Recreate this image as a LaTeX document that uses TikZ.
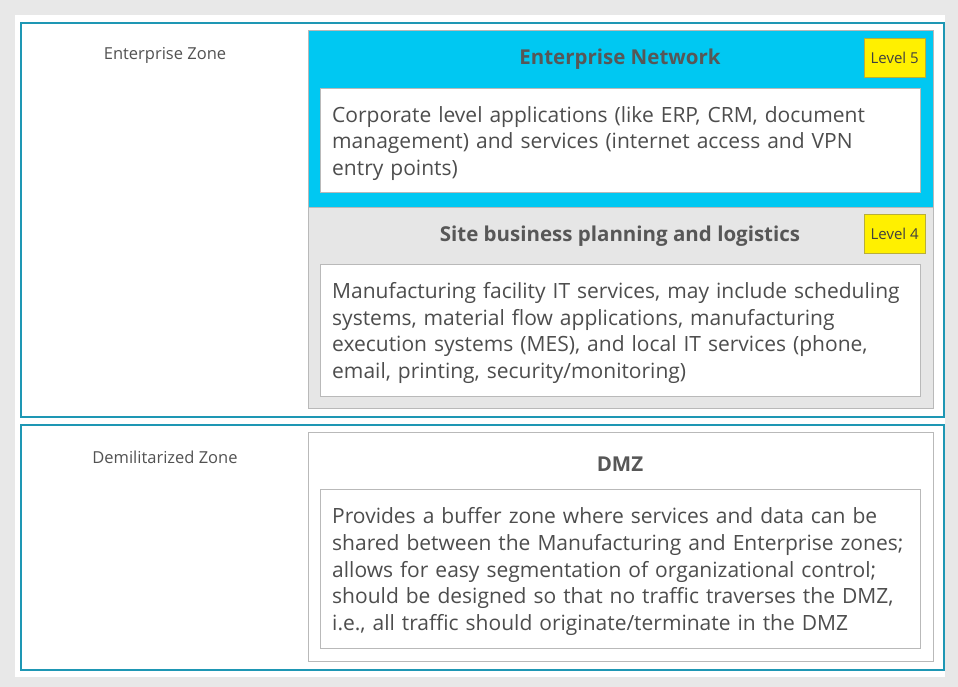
\documentclass[tikz,border=0pt]{standalone}
\usepackage{fontspec}
\setmainfont{Open Sans}
\usetikzlibrary{positioning}

\definecolor{zoneline}{HTML}{1E97B4}
\definecolor{netblue}{HTML}{00C8F2}
\definecolor{sitegray}{HTML}{E6E6E6}
\definecolor{lvlyellow}{HTML}{FFF000}
\definecolor{lvlline}{HTML}{B8AE3C}
\definecolor{txtgray}{HTML}{4D4D4D}
\definecolor{bggray}{HTML}{E8E8E8}

\begin{document}
\begin{tikzpicture}[
        x=1pt, y=-1pt,
        text=txtgray,
        zone/.style={draw=zoneline, line width=2pt, anchor=north west,
            minimum width=923pt, inner sep=0pt},
        layer/.style={draw=gray!55, anchor=north west, minimum width=625pt, inner sep=0pt},
        desc/.style={draw=gray!55, fill=white, anchor=north west, minimum width=600pt,
            text width=576pt, inner xsep=12pt, inner ysep=0pt, align=left,
            font=\fontsize{21}{26.6}\selectfont,
            execute at begin node={\rule{0pt}{22pt}}},
        title/.style={font=\fontsize{20.5}{24}\selectfont\bfseries, text=black!66},
        zonelabel/.style={font=\fontsize{16.5}{19}\selectfont, text=black!68},
        level/.style={draw=lvlline, fill=lvlyellow, minimum width=61pt, minimum height=39pt,
            inner sep=0pt, font=\fontsize{15}{17}\selectfont, text=black!75},
    ]
        % Background
        \fill[bggray] (0,0) rectangle (958,687);
        \fill[white] (15,15) rectangle (945,677);
        \useasboundingbox (0,0) rectangle (958,687);

        % Enterprise zone
        \node[zone, minimum height=394pt] (entzone) at (20,22) {};
        \node[zonelabel] (entlabel) at (165,55) {Enterprise Zone};

        % Level 5
        \node[layer, fill=netblue, minimum height=177pt] (entnet) at (308,30) {};
        \node[title] (entnettitle) at (620,59) {Enterprise Network};
        \node[level, anchor=north west] (lvl5) at (864,38) {Level 5};
        \node[desc, minimum height=104pt] (entnetdesc) at (320,88)
            {Corporate level applications (like ERP, CRM, document\\
             management) and services (internet access and VPN\\
             entry points)};

        % Level 4
        \node[layer, fill=sitegray, minimum height=201pt] (site) at (308,207) {};
        \node[title] (sitetitle) at (620,236) {Site business planning and logistics};
        \node[level, anchor=north west] (lvl4) at (864,214) {Level 4};
        \node[desc, minimum height=132pt] (sitedesc) at (320,264)
            {Manufacturing facility IT services, may include scheduling\\
             systems, material flow applications, manufacturing\\
             execution systems (MES), and local IT services (phone,\\
             email, printing, security/monitoring)};

        % Demilitarized zone
        \node[zone, minimum height=245pt] (dmzzone) at (20,424) {};
        \node[zonelabel] (dmzlabel) at (165,457) {Demilitarized Zone};

        \node[layer, fill=white, minimum height=229pt] (dmz) at (308,432) {};
        \node[title] (dmztitle) at (620,464) {DMZ};
        \node[desc, minimum height=159pt] (dmzdesc) at (320,489)
            {Provides a buffer zone where services and data can be\\
             shared between the Manufacturing and Enterprise zones;\\
             allows for easy segmentation of organizational control;\\
             should be designed so that no traffic traverses the DMZ,\\
             i.e., all traffic should originate/terminate in the DMZ};
    \end{tikzpicture}
\end{document}
